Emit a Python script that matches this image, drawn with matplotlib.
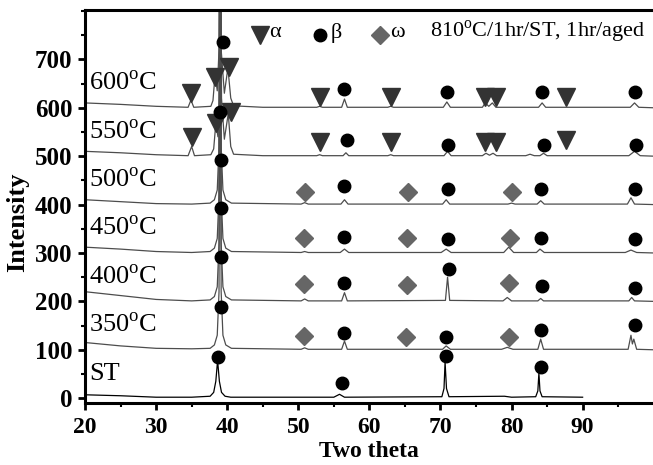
import matplotlib
matplotlib.use("Agg")
import matplotlib.pyplot as plt
from matplotlib.ticker import MultipleLocator

plt.rcParams['font.family'] = 'Liberation Serif'
plt.rcParams['mathtext.fontset'] = 'custom'
plt.rcParams['mathtext.rm'] = 'Liberation Serif'

# curve names and vertical offsets (stacked patterns)
labels = ['ST', '350', '400', '450', '500', '550', '600']
offsets = [0, 100, 200, 300, 400, 500, 600]

# (two theta, intensity above own baseline) vertices
st_pts = [(20, 7), (25, 5), (30, 2), (35, 2), (37.6, 4), (38.1, 12), (38.4, 35), (38.65, 78),
          (38.9, 35), (39.2, 12), (39.7, 4), (40.5, 2), (50, 2), (55.0, 2), (55.8, 8),
          (56.5, 2), (70.2, 3), (70.5, 20), (70.65, 75), (70.85, 20), (71.2, 3), (79.0, 4),
          (80, 2), (83.4, 3), (83.7, 15), (83.85, 52), (84.0, 15), (84.3, 3), (90, 2)]
t350_pts = [(20, 15), (25, 8), (30, 3), (35, 2), (37.6, 3), (38.2, 10), (38.6, 30), (38.85, 120),
            (39.0, 900), (39.15, 120), (39.4, 30), (39.8, 10), (40.6, 3), (50.4, 1), (50.9, 4),
            (51.4, 1), (56.1, 1), (56.5, 18), (56.9, 1), (70.3, 1), (70.8, 8), (71.4, 1),
            (78.6, 1), (79.4, 5), (80.2, 1), (83.7, 1), (84.1, 22), (84.5, 1), (96.4, 1),
            (96.8, 30), (97.0, 12), (97.2, 22), (97.6, 1), (100, 0)]
t400_pts = [(20, 20), (25, 12), (30, 4), (35, 1), (37.6, 3), (38.2, 10), (38.6, 30), (38.85, 120),
            (39.0, 900), (39.15, 120), (39.4, 30), (39.8, 10), (40.6, 3), (50.4, 1), (50.9, 5),
            (51.4, 1), (56.1, 1), (56.5, 18), (56.9, 1), (70.7, 2), (71.0, 50), (71.3, 2),
            (78.8, 1), (79.4, 8), (80.0, 1), (83.7, 1), (84.1, 6), (84.5, 1), (96.5, 1),
            (96.9, 8), (97.3, 1), (100, 0)]
t450_pts = [(20, 12), (25, 8), (30, 3), (35, 1), (37.6, 3), (38.2, 10), (38.6, 30), (38.85, 120),
            (39.0, 900), (39.15, 120), (39.4, 30), (39.8, 10), (40.6, 3), (50.4, 1), (50.9, 3),
            (51.4, 1), (55.9, 1), (56.5, 8), (57.1, 1), (70.1, 1), (70.8, 8), (71.5, 1),
            (78.9, 1), (79.6, 12), (80.3, 1), (83.5, 1), (84.0, 8), (84.6, 1), (96.0, 1),
            (96.8, 6), (97.6, 1), (100, 0)]
t500_pts = [(20, 10), (25, 6), (30, 2), (35, 1), (37.6, 3), (38.2, 10), (38.6, 30), (38.85, 120),
            (39.0, 900), (39.15, 120), (39.4, 30), (39.8, 10), (40.6, 3), (50.4, 1), (50.9, 4),
            (51.4, 1), (56.0, 1), (56.5, 10), (57.0, 1), (70.3, 1), (70.8, 10), (71.3, 1),
            (79.5, 1), (80.0, 3), (80.5, 1), (83.6, 1), (84.1, 8), (84.6, 1), (96.3, 1),
            (96.8, 14), (97.3, 1), (100, 0)]
t550_pts = [(20, 10), (25, 7), (30, 3), (34.5, 1), (35.0, 20), (35.4, 1), (37.7, 3), (38.1, 15),
            (38.4, 68), (38.7, 40), (38.9, 120), (39.05, 900), (39.2, 120), (39.6, 35),
            (40.15, 88), (40.5, 20), (40.9, 4), (45, 1), (52.6, 1), (53.0, 3), (53.4, 1),
            (56.3, 1), (56.7, 7), (57.1, 1), (62.6, 1), (63.0, 3), (63.4, 1), (70.5, 1),
            (71.0, 10), (71.5, 1), (75.9, 1), (76.4, 6), (76.9, 2), (77.4, 6), (77.9, 1),
            (82.0, 1), (82.6, 4), (83.2, 1), (84.0, 1), (84.5, 6), (85.0, 1), (96.5, 1),
            (97.3, 10), (98.1, 1), (100, 0)]
t600_pts = [(20, 10), (25, 7), (30, 3), (34.5, 1), (34.9, 16), (35.3, 1), (37.7, 3), (38.0, 15),
            (38.3, 70), (38.6, 35), (38.85, 120), (39.0, 900), (39.15, 120), (39.6, 30),
            (40.1, 82), (40.5, 20), (40.9, 4), (45, 1), (52.6, 1), (53.0, 3), (53.4, 1),
            (56.1, 1), (56.5, 18), (56.9, 1), (62.6, 1), (63.0, 3), (63.4, 1), (70.4, 1),
            (70.9, 12), (71.4, 1), (75.9, 1), (76.3, 10), (76.8, 3), (77.3, 10), (77.8, 1),
            (83.8, 1), (84.3, 10), (84.8, 1), (96.7, 1), (97.3, 10), (97.9, 1), (100, 0)]
curves = [st_pts, t350_pts, t400_pts, t450_pts, t500_pts, t550_pts, t600_pts]

# phase markers (two theta, intensity)
alpha_pts = [(34.9, 630), (38.3, 663), (40.2, 685), (53.0, 623), (63.0, 623), (76.3, 623),
             (77.8, 623), (87.7, 623), (35.1, 539), (38.4, 569), (40.5, 592), (53.1, 530),
             (63.1, 530), (76.3, 530), (77.8, 530), (87.7, 534)]
beta_pts = [(38.75, 85), (56.1, 31), (70.8, 87), (84.2, 65),
            (39.1, 188), (56.5, 134), (70.8, 127), (84.2, 141), (97.3, 151),
            (39.1, 291), (56.5, 238), (71.2, 266), (84.3, 231), (97.3, 228),
            (39.1, 393), (56.5, 333), (71.0, 328), (84.2, 330), (97.3, 328),
            (39.1, 492), (56.5, 439), (71.0, 433), (84.2, 433), (97.3, 433),
            (39.0, 592), (56.8, 534), (71.0, 524), (84.5, 524), (97.5, 524),
            (39.4, 735), (56.5, 638), (70.9, 632), (84.3, 632), (97.3, 632)]
omega_pts = [(50.8, 129), (65.2, 127), (79.7, 127),
             (50.8, 236), (65.3, 234), (79.7, 238),
             (50.8, 330), (65.3, 330), (79.8, 330),
             (50.9, 426), (65.4, 427), (80.0, 427)]

fig = plt.figure(figsize=(6.53, 4.65), dpi=100)
ax = fig.add_axes([0.1302, 0.1333, 0.8698, 0.8452])

for name, off, pts in zip(labels, offsets, curves):
    xs = [p[0] for p in pts]
    ys = [p[1] + off for p in pts]
    col = 'black' if name == 'ST' else '#4d4d4d'
    ax.plot(xs, ys, color=col, lw=0.9)
    txt = 'ST' if name == 'ST' else name + r'$^{\rm o}$C'
    ax.text(20.6, off + 50, txt, fontsize=19, va='center', ha='left')

ax.plot([p[0] for p in alpha_pts], [p[1] for p in alpha_pts], 'v', color='#333333',
        ms=13, ls='none')
ax.plot([p[0] for p in beta_pts], [p[1] for p in beta_pts], 'o', color='black',
        ms=9, ls='none')
ax.plot([p[0] for p in omega_pts], [p[1] for p in omega_pts], 'D', color='#666666',
        ms=9, ls='none')

# legend row
ax.plot([44.6], [751], 'v', color='#333333', ms=13)
ax.text(45.9, 755, 'α', fontsize=16, va='center')
ax.plot([53.1], [751], 'o', color='black', ms=9)
ax.text(54.5, 755, 'β', fontsize=16, va='center')
ax.plot([61.5], [751], 'D', color='#666666', ms=9)
ax.text(62.9, 755, 'ω', fontsize=16, va='center')
ax.text(68.5, 757, r'810$^{\rm o}$C/1hr/ST, 1hr/aged', fontsize=16, va='center')

ax.set_xlim(20, 99.9)
ax.set_ylim(-10, 802)
ax.set_xticks([20, 30, 40, 50, 60, 70, 80, 90])
ax.xaxis.set_minor_locator(MultipleLocator(5))
ax.set_yticks([0, 100, 200, 300, 400, 500, 600, 700])
ax.yaxis.set_minor_locator(MultipleLocator(50))

for s in ['left', 'bottom', 'top']:
    ax.spines[s].set_linewidth(2.2)
ax.spines['right'].set_visible(False)
ax.tick_params(which='major', direction='out', length=5, width=2, labelsize=18, pad=4)
ax.tick_params(axis='x', which='major', labelsize=17, pad=5)
ax.tick_params(which='minor', direction='out', length=3, width=1.5)
for lab in ax.get_xticklabels() + ax.get_yticklabels():
    lab.set_fontweight('bold')

ax.set_xlabel('Two theta', fontsize=17, fontweight='bold')
ax.set_ylabel('Intensity', fontsize=19, fontweight='bold')
ax.xaxis.set_label_coords(0.5, -0.097)
ax.yaxis.set_label_coords(-0.098, 0.46)

fig.savefig('out.png', dpi=100)
